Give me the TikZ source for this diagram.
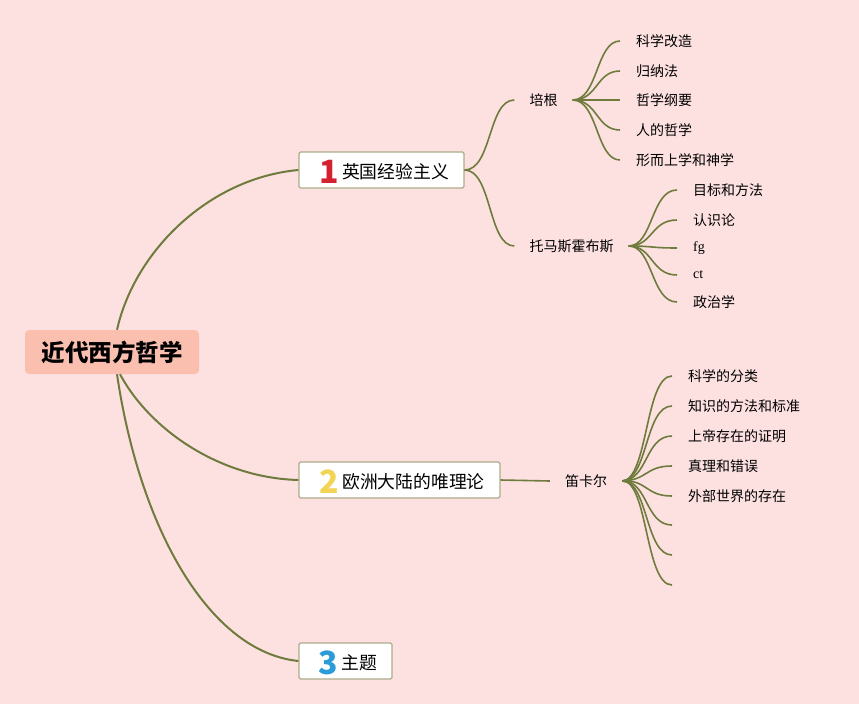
\documentclass[tikz,border=0pt]{standalone}
\usepackage{fontspec}
\setmainfont{Noto Sans CJK SC}
\newfontfamily\latinserif{Liberation Serif}
\definecolor{bgpink}{HTML}{FDE1E1}
\definecolor{rootfill}{HTML}{FBBFB0}
\definecolor{branchline}{HTML}{6E7B3C}
\definecolor{boxborder}{HTML}{ADAB8A}
\definecolor{numred}{HTML}{D5212F}
\definecolor{numyellow}{HTML}{F2D555}
\definecolor{numblue}{HTML}{2B9BD9}
\tikzset{
  rootbox/.style={fill=rootfill, rounded corners=4pt, minimum width=174pt, minimum height=44pt, inner sep=0pt, font=\fontsize{23.5}{26}\selectfont\bfseries},
  mainbox/.style={draw=boxborder, line width=1.2pt, fill=white, rounded corners=1.5pt, minimum height=36pt, inner sep=0pt, font=\fontsize{17.8}{20}\selectfont},
  subtopic/.style={inner xsep=15pt, inner ysep=2pt, font=\fontsize{14}{16}\selectfont},
  leaf/.style={anchor=west, inner xsep=16pt, inner ysep=2pt, minimum height=16pt, font=\fontsize{14}{16}\selectfont},
  mainline/.style={draw=branchline, line width=2pt},
  subline/.style={draw=branchline, line width=1.6pt}
}
\newcommand{\numicon}[2]{\hspace{5pt}\rule{0pt}{21.5pt}\raisebox{-5pt}{\textcolor{#1}{\fontsize{32}{32}\selectfont\bfseries #2}}\hspace{3.5pt}}
\begin{document}
\begin{tikzpicture}[x=1pt,y=-1pt]
\fill[bgpink] (0,0) rectangle (859,704);
\useasboundingbox (0,0) rectangle (859,704);

% root
\node[rootbox] (root) at (112,352) {近代西方哲学};

% main topics
\node[mainbox, minimum width=165pt] (n1) at (381.5,170) {\numicon{numred}{1}英国经验主义};
\node[mainbox, minimum width=201pt] (n2) at (399.5,480) {\numicon{numyellow}{2}欧洲大陆的唯理论};
\node[mainbox, minimum width=93pt] (n3) at (345.5,661) {\numicon{numblue}{3}主题};

% root connectors
\draw[mainline] ([xshift=5pt]root.north) .. controls (135,250) and (210,178) .. (n1.west);
\draw[mainline] ([xshift=8pt]root.south) .. controls (150,430) and (220,478) .. (n2.west);
\draw[mainline] ([xshift=5pt]root.south) .. controls (140,530) and (210,652) .. (n3.west);

% sub topics
\node[subtopic] (bacon) at (543.5,100) {培根};
\node[subtopic] (hobbes) at (571.5,246) {托马斯霍布斯};
\node[subtopic] (descartes) at (586,481) {笛卡尔};

\draw[subline] (n1.east) .. controls (492,170) and (488,100) .. (bacon.west);
\draw[subline] (n1.east) .. controls (492,170) and (488,246) .. (hobbes.west);
\draw[subline] (n2.east) -- (descartes.west);

% Bacon leaves
\foreach \i/\y/\t in {1/41/科学改造, 2/71/归纳法, 3/100/哲学纲要, 4/130/人的哲学, 5/160/形而上学和神学}{
  \node[leaf] (b\i) at (620,\y) {\t};
  \draw[subline] (bacon.east) .. controls (598,100) and (596,\y) .. (b\i.west);
}

% Hobbes leaves
\foreach \i/\y/\t in {1/190/目标和方法, 2/220/认识论, 3/248/{\latinserif fg}, 4/275/{\latinserif ct}, 5/302/政治学}{
  \node[leaf] (h\i) at (677,\y) {\t};
  \draw[subline] (hobbes.east) .. controls (653,246) and (651,\y) .. (h\i.west);
}

% Descartes leaves
\foreach \i/\y/\t in {1/376/科学的分类, 2/406/知识的方法和标准, 3/436/上帝存在的证明, 4/466/真理和错误, 5/496/外部世界的存在, 6/525/{}, 7/555/{}, 8/585/{}}{
  \node[leaf] (d\i) at (672,\y) {\t};
  \draw[subline] (descartes.east) .. controls (648,480) and (645,\y) .. (d\i.west);
}
\end{tikzpicture}
\end{document}
